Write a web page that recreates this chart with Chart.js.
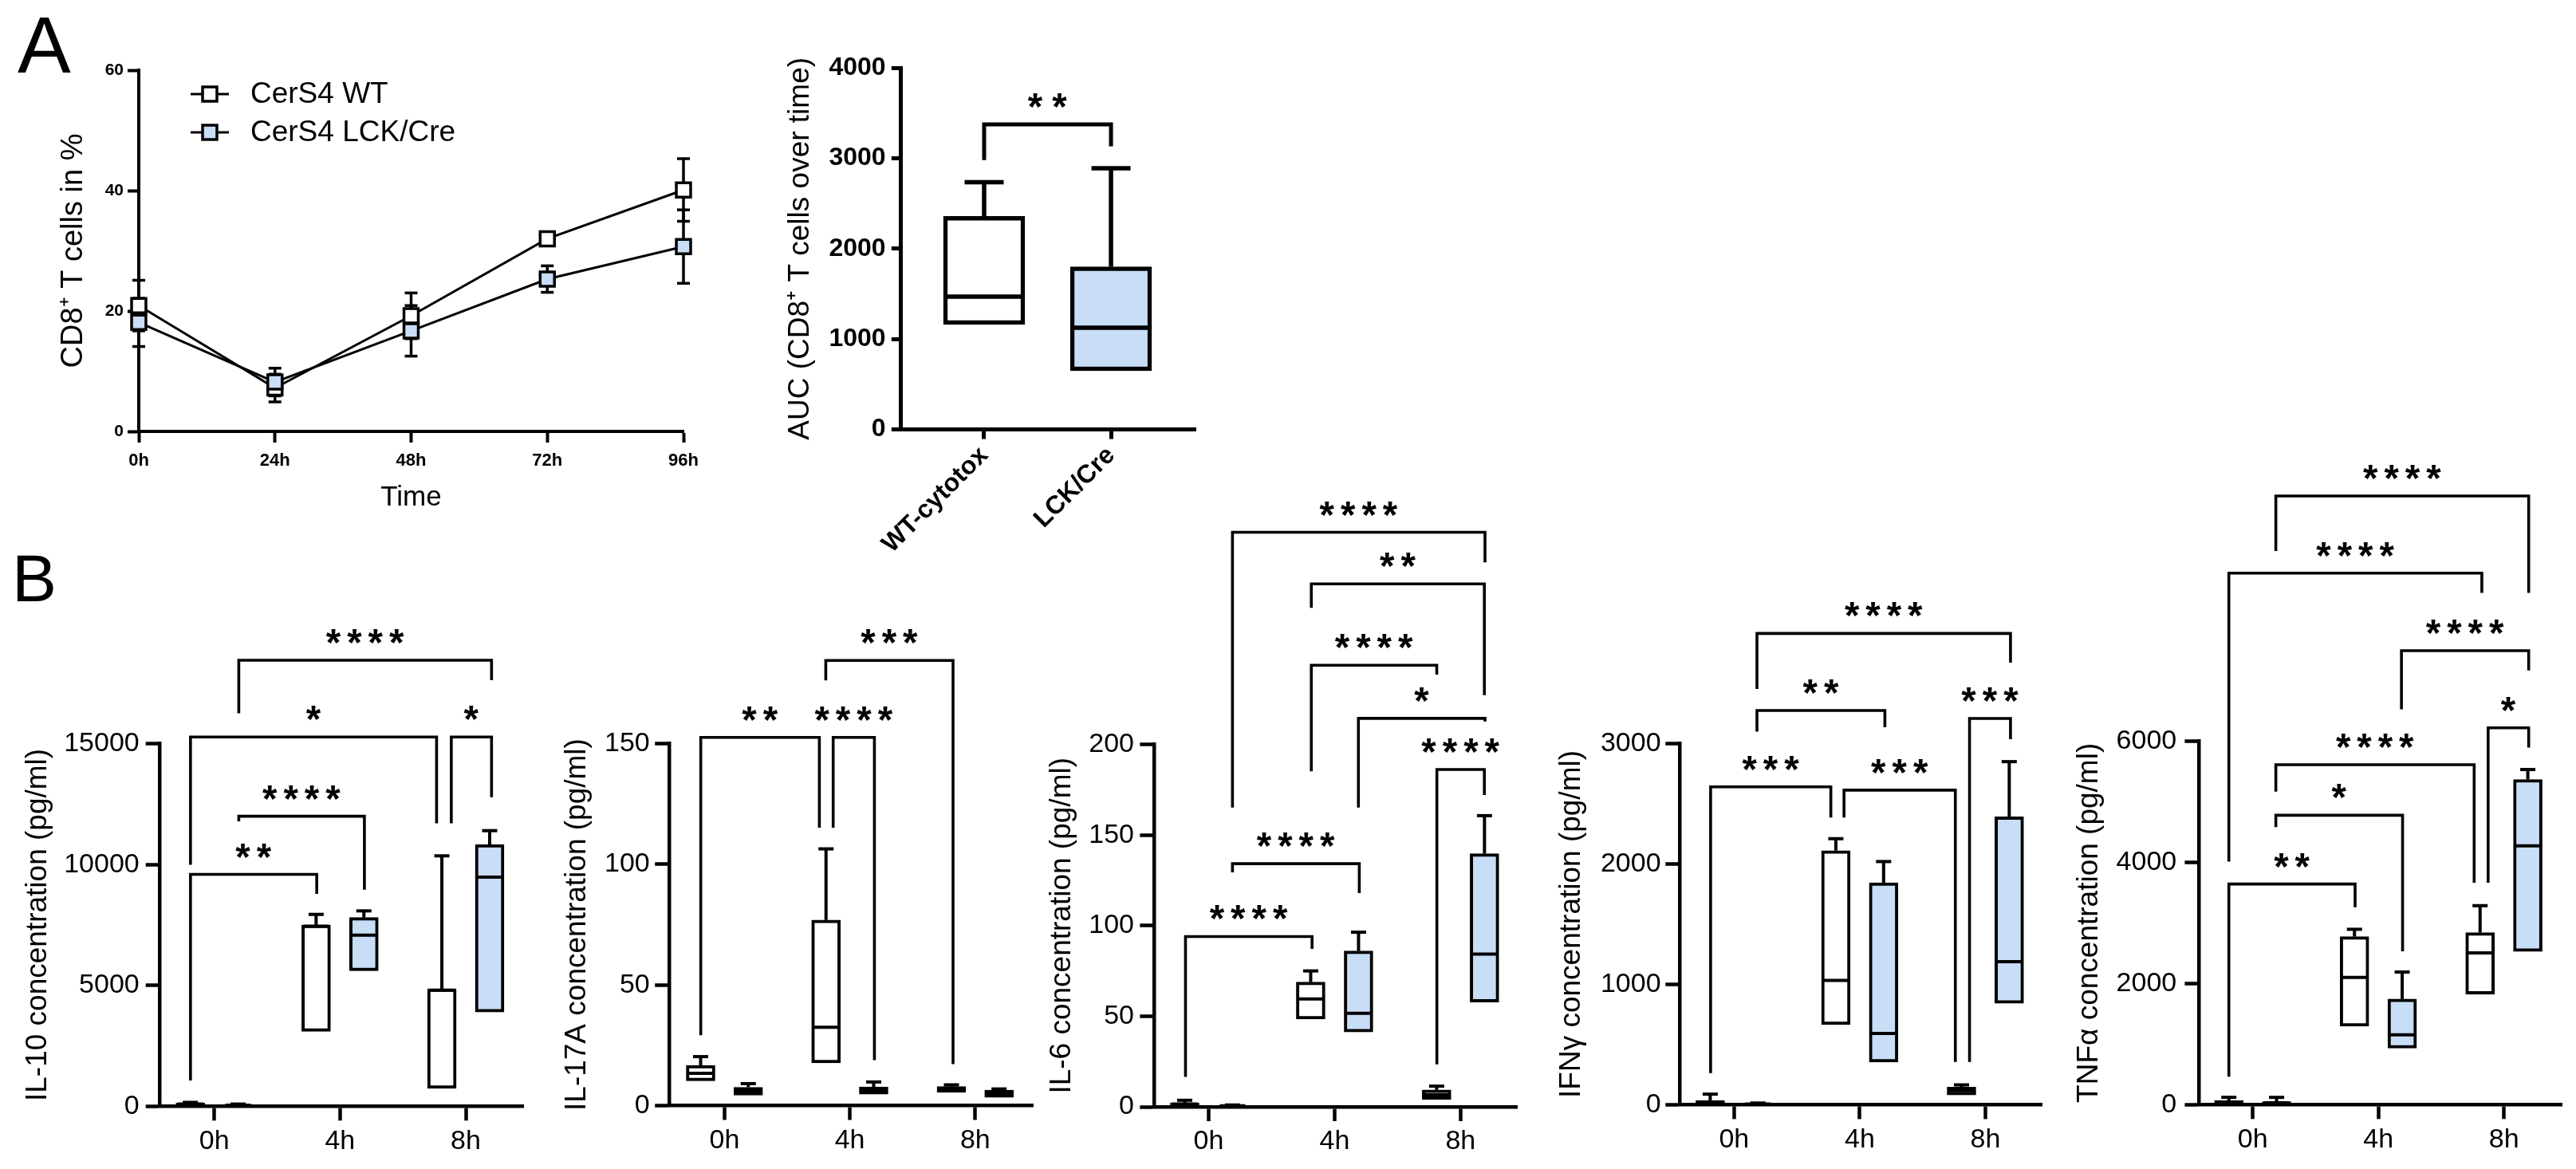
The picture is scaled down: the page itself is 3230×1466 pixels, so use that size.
<!DOCTYPE html>
<html>
<head>
<meta charset="utf-8">
<title>CerS4 CD8 T cells and cytokines</title>
<script src="https://cdn.jsdelivr.net/npm/chart.js@4.4.1/dist/chart.umd.min.js"></script>
<style>
  html, body { margin: 0; padding: 0; background: #fff; }
  body { position: relative; width: 3230px; height: 1466px; overflow: hidden;
         font-family: "Liberation Sans", Arial, Helvetica, sans-serif; }
  canvas { position: absolute; }
  .panel-letter { position: absolute; line-height: 1; color: #000; }
</style>
</head>
<body>
<div class="panel-letter" style="left:22px; top:6px; font-size:100px;">A</div>
<div class="panel-letter" style="left:15px; top:683px; font-size:84px;">B</div>
<canvas id="cd8-line"></canvas>
<canvas id="cd8-auc"></canvas>
<canvas id="il10"></canvas>
<canvas id="il17a"></canvas>
<canvas id="il6"></canvas>
<canvas id="ifng"></canvas>
<canvas id="tnfa"></canvas>
<script>
// ---------- data ----------
const TIME_LABELS = ['0h', '24h', '48h', '72h', '96h'];
const WT_MEAN  = [20.9, 7.2, 19.2, 32.0, 40.1];
const WT_SD    = [4.2, 2.3, 3.8, 0.8, 5.2];
const LCK_MEAN = [18.1, 8.2, 16.7, 25.3, 30.7];
const LCK_SD   = [4.0, 2.3, 4.2, 2.2, 6.1];

// box plots: [min, q1, median, q3, max]
const AUC_GROUPS = ['WT-cytotox', 'LCK/Cre'];
const AUC_WT  = [[1037, 1162, 1469, 2357, 2735]];
const AUC_LCK = [[428, 649, 1125, 1799, 2889]];
// brackets: [from, to, bar level, left leg end, right leg end, stars]
const AUC_BRACKETS = [[0, 1, 3374, 2980, 3131, '**']];

const HOURS = ['0h', '4h', '8h'];

const IL10_WT  = [[30, 60, 90, 130, 160], [3050, 3101, 7450, 7498, 7937], [350, 736, 4800, 4859, 10359]];
const IL10_LCK = [[10, 30, 45, 70, 90], [4440, 5608, 7080, 7805, 8082], [3596, 3893, 9478, 10830, 11401]];
const IL10_BRACKETS = [
  [0.195, 2.205, 18451, 16254, 17626, '****'],
  [-0.189, 1.768, 15274, 9989, 11705, '*'],
  [1.885, 2.205, 15274, 11705, 12787, '*'],
  [0.195, 1.194, 11998, 11790, 8957, '****'],
  [-0.189, 0.815, 9593, 1062, 8785, '**']
];

const IL17A_WT  = [[5.7, 10.3, 13.4, 16.7, 20.3], [13.2, 17.7, 32.5, 76.9, 106.4], [2.2, 5.5, 6.8, 7.9, 8.6]];
const IL17A_LCK = [[2.6, 4.3, 6.0, 7.6, 9.1], [0.9, 4.7, 6.2, 7.7, 9.8], [2.9, 3.4, 4.9, 6.4, 6.9]];
const IL17A_BRACKETS = [
  [0.808, 1.823, 184.5, 176.2, 17.2, '***'],
  [-0.189, 0.757, 152.6, 29.2, 115.2, '**'],
  [0.867, 1.196, 152.6, 115.2, 18.8, '****']
];

const IL6_WT  = [[0.2, 0.8, 1.5, 2.2, 3.6], [35.5, 48.5, 59.5, 68.8, 75.0], [2.1, 4.1, 6.6, 9.3, 11.4]];
const IL6_LCK = [[0.1, 0.3, 0.5, 0.8, 1.0], [33.4, 41.3, 51.6, 86.0, 96.4], [55.1, 57.8, 84.3, 139.7, 160.7]];
const IL6_BRACKETS = [
  [0.189, 2.194, 317.1, 165.2, 300.5, '****'],
  [0.815, 2.189, 288.6, 275.4, 227.2, '**'],
  [0.815, 1.811, 243.7, 185.2, 238.6, '****'],
  [1.189, 2.194, 214.4, 165.2, 212.7, '*'],
  [1.812, 2.189, 186.2, 23.4, 172.1, '****'],
  [0.189, 1.196, 134.2, 129.4, 118.0, '****'],
  [-0.184, 0.821, 94.0, 16.5, 87.1, '****']
];

const IFNG_WT  = [[5, 8, 20, 35, 88], [336, 666, 1032, 2111, 2210], [44, 81, 117, 146, 165]];
const IFNG_LCK = [[2, 4, 6, 10, 14], [81, 355, 593, 1844, 2020], [629, 842, 1189, 2392, 2850]];
const IFNG_BRACKETS = [
  [0.182, 2.2, 3915, 3454, 3673, '****'],
  [0.182, 1.2, 3275, 3099, 3136, '**'],
  [-0.187, 0.770, 2641, 263, 2385, '***'],
  [0.875, 1.761, 2613, 2385, 355, '***'],
  [1.874, 2.2, 3209, 355, 3036, '***']
];

const TNFA_WT  = [[5, 15, 40, 70, 121], [1086, 1296, 2099, 2773, 2894], [1354, 1824, 2505, 2838, 3284]];
const TNFA_LCK = [[2, 10, 30, 50, 120], [0, 932, 1152, 1743, 2189], [98, 2530, 4272, 5367, 5531]];
const TNFA_BRACKETS = [
  [0.184, 2.197, 10046, 9137, 8447, '****'],
  [-0.190, 1.824, 8773, 4012, 8447, '****'],
  [1.184, 2.197, 7492, 6526, 7167, '****'],
  [1.874, 2.197, 6219, 3663, 5895, '*'],
  [0.184, 1.763, 5611, 5165, 3663, '****'],
  [0.184, 1.193, 4776, 4581, 2530, '*'],
  [-0.190, 0.815, 3641, 462, 3258, '**']
];

// ---------- look ----------
const FONT = '"Liberation Sans", Arial, Helvetica, sans-serif';
const BLUE = '#c8ddf6';
Chart.defaults.font.family = FONT;
Chart.defaults.color = '#000';

const B_STYLE = {
  tickLen: 18, axisW: 4.5, tickFont: 34, titleFont: 37, xTickPad: 9,
  boxWidth: 36, capWidth: 19, lineW: 4, bracketW: 3.6,
  starH: 18, starPitch: 26.4, starGap: 30,
  slots: [[-0.19, 0.81, 1.81], [0.19, 1.19, 2.19]]   // WT / LCK box positions per group
};
const AUC_STYLE = {
  tickLen: 12, axisW: 5, tickFont: 32, titleFont: 37, xTickPad: 2,
  boxWidth: 102, capWidth: 49, lineW: 5.5, bracketW: 5,
  starH: 18, starPitch: 30.6, starGap: 29.5,
  slots: [[0], [1]]
};

// canvas rect [x, y, w, h] and chart area [left, top, right, bottom], page px
const LINE_GEO = { rect: [0, 0, 900, 660], area: [174, 88, 857, 541] };
const AUC_GEO  = { rect: [960, 0, 560, 740], area: [1129.8, 85, 1499, 538.6], xRange: [-0.655, 1.666] };

const PANELS = [
  { id: 'il10', rect: [0, 740, 690, 726], area: [200.7, 932.6, 656.7, 1387.3], xRange: [-0.431, 2.461],
    yMax: 15000, yStep: 5000, titlePad: 25.8, tickPad: 8, title: 'IL-10 concentration (pg/ml)',
    wt: IL10_WT, lck: IL10_LCK, brackets: IL10_BRACKETS },
  { id: 'il17a', rect: [690, 740, 630, 726], area: [839.2, 932.6, 1295, 1386.5], xRange: [-0.44, 2.459],
    yMax: 150, yStep: 50, titlePad: 11.5, tickPad: 6.5, title: 'IL-17A concentration (pg/ml)',
    wt: IL17A_WT, lck: IL17A_LCK, brackets: IL17A_BRACKETS },
  { id: 'il6', rect: [1300, 600, 660, 866], area: [1447.3, 933.6, 1902.9, 1388], xRange: [-0.432, 2.453],
    yMax: 200, yStep: 50, titlePad: 9.4, tickPad: 7.3, title: 'IL-6 concentration (pg/ml)',
    wt: IL6_WT, lck: IL6_LCK, brackets: IL6_BRACKETS },
  { id: 'ifng', rect: [1940, 700, 650, 766], area: [2106.3, 932.5, 2560, 1385.4], xRange: [-0.432, 2.448],
    yMax: 3000, yStep: 1000, titlePad: 8.2, tickPad: 5.7, title: 'IFNγ concentration (pg/ml)',
    wt: IFNG_WT, lck: IFNG_LCK, brackets: IFNG_BRACKETS },
  { id: 'tnfa', rect: [2590, 550, 640, 916], area: [2757.4, 929.4, 3212.1, 1385.3], xRange: [-0.427, 2.46],
    yMax: 6000, yStep: 2000, titlePad: 7.2, tickPad: 10.2, title: 'TNFα concentration (pg/ml)',
    wt: TNFA_WT, lck: TNFA_LCK, brackets: TNFA_BRACKETS }
];

// ---------- helpers ----------
function place(cv, rect) {
  cv.width = rect[2];
  cv.height = rect[3];
  Object.assign(cv.style, { left: rect[0] + 'px', top: rect[1] + 'px', width: rect[2] + 'px', height: rect[3] + 'px' });
}

function frame(rect, area) {
  return {
    padding: { left: 0, bottom: 0, top: area[1] - rect[1], right: rect[0] + rect[2] - area[2] },
    yWidth: area[0] - rect[0],
    xHeight: rect[1] + rect[3] - area[3]
  };
}

function axisLook(tickLen, w) {
  return {
    grid: { display: true, drawOnChartArea: false, drawTicks: true, tickLength: tickLen,
            tickWidth: w, tickColor: '#000', color: '#000', offset: false },
    border: { display: true, color: '#000', width: w }
  };
}

function seg(ctx, x1, y1, x2, y2) {
  ctx.beginPath(); ctx.moveTo(x1, y1); ctx.lineTo(x2, y2); ctx.stroke();
}

function drawStars(ctx, text, cx, cy, st) {
  ctx.font = `bold 100px ${FONT}`;
  let m = ctx.measureText('*');
  const size = st.starH * 100 / (m.actualBoundingBoxAscent + m.actualBoundingBoxDescent);
  ctx.font = `bold ${size}px ${FONT}`;
  m = ctx.measureText('*');
  const base = cy + (m.actualBoundingBoxAscent - m.actualBoundingBoxDescent) / 2;
  const shift = (m.actualBoundingBoxLeft - m.actualBoundingBoxRight) / 2;
  ctx.fillStyle = '#000';
  ctx.textAlign = 'left';
  ctx.textBaseline = 'alphabetic';
  const n = text.length;
  for (let i = 0; i < n; i++) {
    ctx.fillText(text[i], cx + (i - (n - 1) / 2) * st.starPitch + shift, base);
  }
}

// whiskers, medians, significance brackets
function boxExtras(S, brackets) {
  return {
    id: 'boxExtras',
    afterDatasetsDraw(chart) {
      const { ctx, scales: { x, y } } = chart;
      ctx.save();
      ctx.strokeStyle = '#000';
      ctx.lineCap = 'butt';
      ctx.lineWidth = S.lineW;
      chart.data.datasets.forEach(ds => {
        ds.stats.forEach((s, i) => {
          const px = x.getPixelForValue(ds.data[i].x);
          const c = S.capWidth / 2, h = S.boxWidth / 2 - S.lineW / 2;
          const [mn, q1, md, q3, mx] = s.map(v => y.getPixelForValue(v));
          seg(ctx, px, q3, px, mx);
          seg(ctx, px - c, mx, px + c, mx);
          if (q1 - mn > 0.5) {
            seg(ctx, px, q1, px, mn);
            seg(ctx, px - c, mn, px + c, mn);
          }
          seg(ctx, px - h, md, px + h, md);
        });
      });
      ctx.lineWidth = S.bracketW;
      ctx.lineJoin = 'miter';
      brackets.forEach(([u1, u2, yb, yl, yr, label]) => {
        const x1 = x.getPixelForValue(u1), x2 = x.getPixelForValue(u2), pb = y.getPixelForValue(yb);
        ctx.beginPath();
        ctx.moveTo(x1, y.getPixelForValue(yl));
        ctx.lineTo(x1, pb);
        ctx.lineTo(x2, pb);
        ctx.lineTo(x2, y.getPixelForValue(yr));
        ctx.stroke();
        drawStars(ctx, label, (x1 + x2) / 2, pb - S.starGap, S);
      });
      ctx.restore();
    }
  };
}

function boxChart(cv, geo, S, opts) {
  place(cv, geo.rect);
  const f = frame(geo.rect, geo.area);
  const fills = ['#ffffff', BLUE];
  const look = axisLook(S.tickLen, S.axisW);
  return new Chart(cv, {
    type: 'bar',
    data: {
      datasets: [opts.wt, opts.lck].map((g, k) => ({
        data: g.map((s, i) => ({ x: S.slots[k][i], y: [s[1], s[3]] })),
        stats: g,
        backgroundColor: fills[k],
        borderColor: '#000',
        borderWidth: S.lineW,
        borderSkipped: false,
        barThickness: S.boxWidth,
        grouped: false
      }))
    },
    options: {
      responsive: false,
      animation: false,
      devicePixelRatio: 1,
      layout: { padding: f.padding },
      plugins: { legend: { display: false }, tooltip: { enabled: false } },
      scales: {
        x: {
          type: 'linear', min: geo.xRange[0], max: geo.xRange[1], offset: false,
          afterBuildTicks: s => { s.ticks = opts.cats.map((_, i) => ({ value: i })); },
          afterFit: s => { s.height = f.xHeight; },
          ticks: {
            callback: v => opts.cats[v], autoSkip: false,
            minRotation: opts.rotation, maxRotation: opts.rotation,
            font: { size: opts.xFont, weight: opts.weight, lineHeight: opts.rotation ? 1.2 : 1 },
            padding: S.xTickPad, color: '#000'
          },
          grid: look.grid, border: look.border
        },
        y: {
          min: 0, max: opts.yMax,
          afterFit: s => { s.width = f.yWidth; },
          ticks: { stepSize: opts.yStep, callback: v => String(v),
                   font: { size: S.tickFont, weight: opts.weight }, padding: opts.tickPad, color: '#000' },
          grid: look.grid, border: look.border,
          title: { display: true, text: opts.title, color: '#000',
                   font: { size: S.titleFont, weight: 'normal' },
                   padding: { top: opts.titlePad, bottom: 0 } }
        }
      }
    },
    plugins: [boxExtras(S, opts.brackets)]
  });
}

// ---------- panel A: time course ----------
(function lineChart() {
  const cv = document.getElementById('cd8-line');
  place(cv, LINE_GEO.rect);
  const f = frame(LINE_GEO.rect, LINE_GEO.area);
  const look = axisLook(14, 4);
  const markerR = 12.7;   // rect point: side = 1.414 * r
  const series = [
    { label: 'CerS4 WT', mean: WT_MEAN, sd: WT_SD, fill: '#ffffff', order: 2 },
    { label: 'CerS4 LCK/Cre', mean: LCK_MEAN, sd: LCK_SD, fill: BLUE, order: 1 }
  ];

  const errorBars = {
    id: 'errorBars',
    beforeDatasetsDraw(chart) {
      const { ctx, scales: { y } } = chart;
      ctx.save();
      ctx.strokeStyle = '#000';
      ctx.lineWidth = 3.5;
      chart.data.datasets.forEach((ds, di) => {
        chart.getDatasetMeta(di).data.forEach((pt, i) => {
          const yt = y.getPixelForValue(ds.data[i] + ds.sd[i]);
          const yb = y.getPixelForValue(ds.data[i] - ds.sd[i]);
          seg(ctx, pt.x, yt, pt.x, yb);
          seg(ctx, pt.x - 8, yt, pt.x + 8, yt);
          seg(ctx, pt.x - 8, yb, pt.x + 8, yb);
        });
      });
      ctx.restore();
    }
  };

  const lineLegend = {
    id: 'lineLegend',
    afterDraw(chart) {
      const { ctx, chartArea: a } = chart;
      const side = markerR * Math.SQRT2;
      ctx.save();
      series.forEach((s, i) => {
        const yy = a.top + 30 + i * 48;
        ctx.strokeStyle = '#000';
        ctx.lineWidth = 3;
        seg(ctx, a.left + 65, yy, a.left + 113, yy);
        ctx.fillStyle = s.fill;
        ctx.fillRect(a.left + 89 - side / 2, yy - side / 2, side, side);
        ctx.lineWidth = 3.5;
        ctx.strokeRect(a.left + 89 - side / 2, yy - side / 2, side, side);
        ctx.fillStyle = '#000';
        ctx.font = `37px ${FONT}`;
        ctx.textAlign = 'left';
        ctx.textBaseline = 'middle';
        ctx.fillText(s.label, a.left + 140, yy + 1);
      });
      ctx.restore();
    }
  };

  new Chart(cv, {
    type: 'line',
    data: {
      labels: TIME_LABELS,
      datasets: series.map(s => ({
        label: s.label, data: s.mean, sd: s.sd, order: s.order,
        borderColor: '#000', borderWidth: 3, tension: 0, fill: false, clip: false,
        pointStyle: 'rect', pointRadius: markerR, pointBorderWidth: 3.5,
        pointBackgroundColor: s.fill, pointBorderColor: '#000'
      }))
    },
    options: {
      responsive: false,
      animation: false,
      devicePixelRatio: 1,
      layout: { padding: f.padding },
      plugins: { legend: { display: false }, tooltip: { enabled: false } },
      scales: {
        x: {
          type: 'category', offset: false,
          afterFit: s => { s.height = f.xHeight; },
          ticks: { font: { size: 22, weight: 'bold' }, padding: 9.8, maxRotation: 0, color: '#000' },
          grid: look.grid, border: look.border,
          title: { display: true, text: 'Time', color: '#000', font: { size: 35, weight: 'normal' },
                   padding: { top: 0, bottom: 15 } }
        },
        y: {
          min: 0, max: 60,
          afterFit: s => { s.width = f.yWidth; },
          ticks: { stepSize: 20, font: { size: 21, weight: 'bold' }, padding: 5, color: '#000' },
          grid: look.grid, border: look.border,
          title: { display: true, text: 'CD8⁺ T cells in %', color: '#000', font: { size: 38, weight: 'normal' },
                   padding: { top: 70.2, bottom: 0 } }
        }
      }
    },
    plugins: [errorBars, lineLegend]
  });
})();

// ---------- panel A: AUC ----------
boxChart(document.getElementById('cd8-auc'), AUC_GEO, AUC_STYLE, {
  wt: AUC_WT, lck: AUC_LCK, brackets: AUC_BRACKETS, cats: AUC_GROUPS,
  yMax: 4000, yStep: 1000, title: 'AUC (CD8⁺ T cells over time)', titlePad: 21.6, tickPad: 7.2,
  weight: 'bold', xFont: 32, rotation: 45
});

// ---------- panel B: cytokines ----------
PANELS.forEach(p => {
  boxChart(document.getElementById(p.id), p, B_STYLE, {
    wt: p.wt, lck: p.lck, brackets: p.brackets, cats: HOURS,
    yMax: p.yMax, yStep: p.yStep, title: p.title, titlePad: p.titlePad, tickPad: p.tickPad,
    weight: 'normal', xFont: B_STYLE.tickFont, rotation: 0
  });
});
</script>
</body>
</html>
